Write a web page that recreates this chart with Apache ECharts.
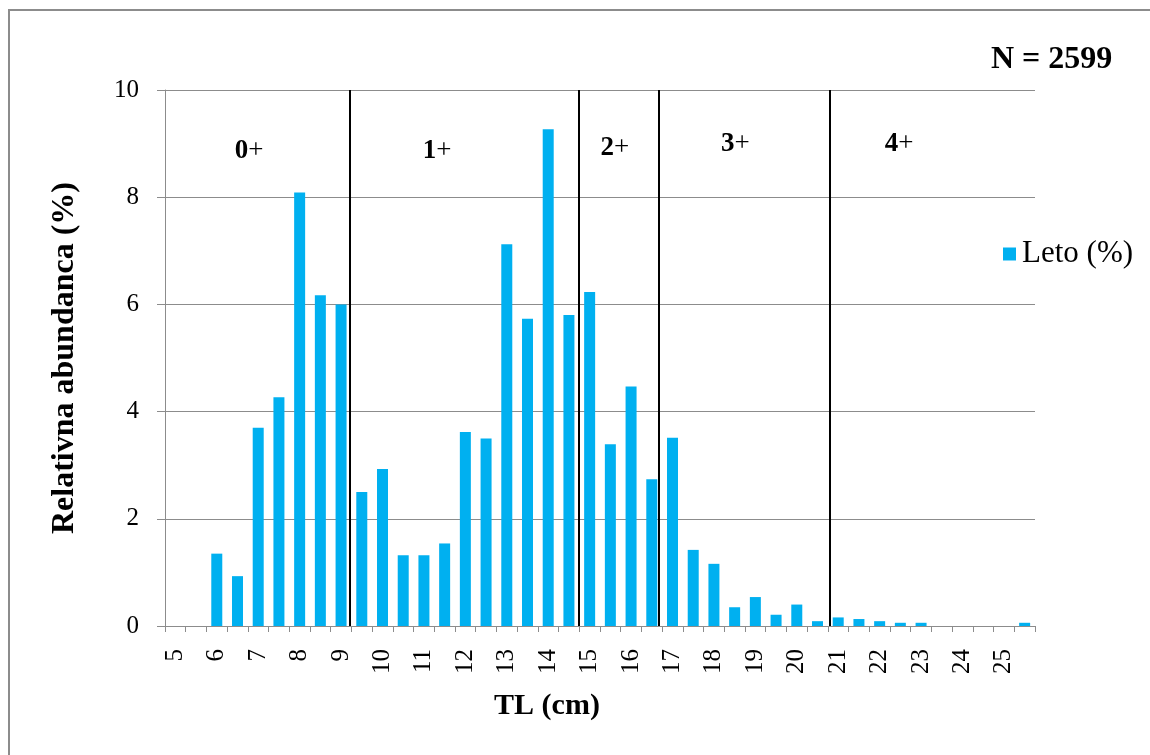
<!DOCTYPE html>
<html>
<head>
<meta charset="utf-8">
<script src="https://cdn.jsdelivr.net/npm/echarts@6/dist/echarts.min.js"></script>
<style>
html,body{margin:0;padding:0;background:#fff;}
#chart{width:1150px;height:755px;}
</style>
</head>
<body>
<div id="chart"></div>
<script>
// Length classes (TL, cm)
const categories = ['5','5.5','6','6.5','7','7.5','8','8.5','9','9.5','10','10.5','11','11.5','12','12.5','13','13.5','14','14.5','15','15.5','16','16.5','17','17.5','18','18.5','19','19.5','20','20.5','21','21.5','22','22.5','23','23.5','24','24.5','25','25.5'];
// Relative abundance (%) - summer
const letoValues = [0,0,1.35,0.93,3.70,4.27,8.09,6.17,6.00,2.50,2.93,1.32,1.32,1.54,3.62,3.50,7.12,5.73,9.27,5.80,6.23,3.39,4.47,2.74,3.51,1.42,1.16,0.35,0.54,0.21,0.40,0.09,0.16,0.13,0.09,0.06,0.06,0,0,0,0,0.06];
const seriesName = 'Leto (%)';
// Age-class dividers (in cm along the TL axis)
const dividerTL = [9.21, 14.74, 16.66, 20.79];
// Age-class labels
const ageNames = ['0+','1+','2+','3+','4+'];
const ageTL = [6.78, 11.32, 15.61, 18.52, 22.47];
const ageY = [8.86, 8.86, 8.92, 9.0, 9.0];
const yTicks = [0, 2, 4, 6, 8, 10];
const titleText = 'N = 2599';
const xName = 'TL (cm)';
const yName = 'Relativna abundanca (%)';

const FONT = '"Liberation Serif","Times New Roman",serif';
const GRAY = '#8c8c8c';

const chart = echarts.init(document.getElementById('chart'), null, {renderer:'canvas'});
const option = {
  animation: false,
  backgroundColor: '#fff',
  textStyle: {fontFamily: FONT, color: '#000'},
  graphic: [{
    type: 'rect', silent: true, z: -10,
    shape: {x: 9, y: 10, width: 1200, height: 800},
    style: {fill: '#fff', stroke: GRAY, lineWidth: 2}
  }],
  title: {
    text: titleText, left: 991, top: 43, padding: 0,
    textStyle: {fontFamily: FONT, fontWeight: 'bold', fontSize: 32, color: '#000', lineHeight: 34}
  },
  legend: {
    data: [seriesName], left: 1003, top: 238, padding: 0,
    icon: 'rect', itemWidth: 13, itemHeight: 13, itemGap: 6,
    textStyle: {fontFamily: FONT, fontSize: 31, color: '#000', lineHeight: 32, padding: [0,0,0,1]}
  },
  grid: {left: 165, right: 115, top: 90, bottom: 129, containLabel: false},
  xAxis: [{
    type: 'category', data: categories,
    boundaryGap: true,
    name: xName, nameLocation: 'middle', nameGap: 65,
    nameTextStyle: {fontFamily: FONT, fontWeight: 'bold', fontSize: 30, color: '#000', padding: [0,106,0,0]},
    axisLine: {show: true, lineStyle: {color: GRAY, width: 1}},
    axisTick: {show: true, interval: 0, length: 6, lineStyle: {color: GRAY}},
    axisLabel: {interval: 1, rotate: 90, margin: 23, fontFamily: FONT, fontSize: 25, color: '#000'},
    splitLine: {show: false}
  }, {
    type: 'value', min: 4.75, max: 25.75, show: false
  }],
  yAxis: {
    type: 'value', min: yTicks[0], max: yTicks[yTicks.length-1], interval: 2,
    name: yName, nameLocation: 'middle', nameGap: 84,
    nameTextStyle: {fontFamily: FONT, fontWeight: 'bold', fontSize: 32, color: '#000'},
    axisLine: {show: true, lineStyle: {color: GRAY, width: 1}},
    axisTick: {show: true, length: 8, lineStyle: {color: GRAY}},
    axisLabel: {margin: 26, fontFamily: FONT, fontSize: 25, color: '#000'},
    splitLine: {show: true, lineStyle: {color: GRAY, width: 1}}
  },
  series: [{
    name: seriesName, type: 'bar', xAxisIndex: 0,
    data: letoValues, barWidth: 11,
    itemStyle: {color: '#00B0F0'}
  }, {
    name: 'age', type: 'scatter', xAxisIndex: 1, silent: true,
    symbolSize: 0,
    itemStyle: {opacity: 1, color: '#000'},
    data: ageNames.map((n, i) => ({name: n, value: [ageTL[i], ageY[i]]})),
    label: {
      show: true, position: 'inside', color: '#000', textBorderWidth: 0, opacity: 1,
      formatter: p => '{b|' + p.name.replace('+','') + '}{r|+}',
      rich: {
        b: {fontFamily: FONT, fontWeight: 'bold', fontSize: 27, color: '#000', textBorderWidth: 0},
        r: {fontFamily: FONT, fontWeight: 'normal', fontSize: 27, color: '#000', textBorderWidth: 0}
      }
    },
    markLine: {
      silent: true, symbol: ['none','none'],
      label: {show: false},
      lineStyle: {color: '#000', width: 2, type: 'solid', opacity: 1},
      data: dividerTL.map(x => [{coord: [x, 0]}, {coord: [x, 10]}])
    }
  }]
};
chart.setOption(option);
</script>
</body>
</html>
